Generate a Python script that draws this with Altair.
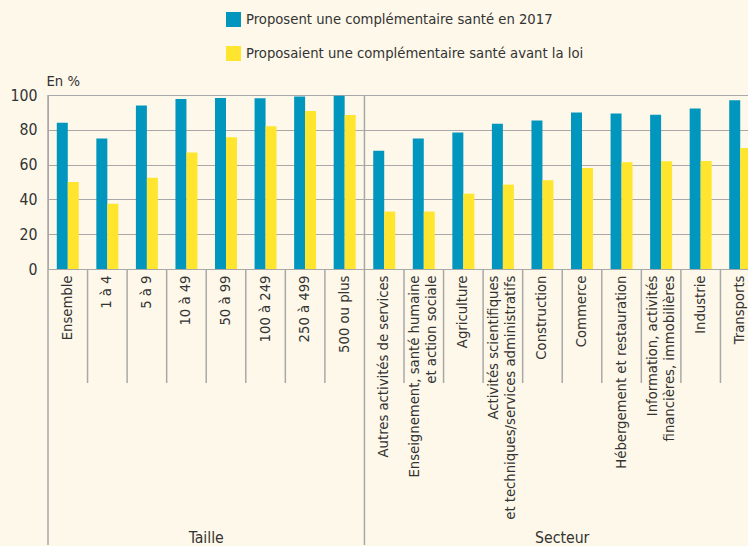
import altair as alt
import pandas as pd

categories = [
    "Ensemble", "1 à 4", "5 à 9", "10 à 49", "50 à 99", "100 à 249", "250 à 499", "500 ou plus",
    "Autres activités de services",
    "Enseignement, santé humaine|et action sociale",
    "Agriculture",
    "Activités scientifiques|et techniques/services administratifs",
    "Construction", "Commerce", "Hébergement et restauration",
    "Information, activités|financières, immobilières",
    "Industrie", "Transports",
]
groups = ["Taille"] * 8 + ["Secteur"] * 10
series_names = [
    "Proposent une complémentaire santé en 2017",
    "Proposaient une complémentaire santé avant la loi",
]
values_2017 = [84, 75, 94, 97.7, 98.3, 98.2, 99.2, 99.6,
               68, 75, 78.5, 83.5, 85.3, 90, 89.3, 88.7, 92.3, 97]
values_avant = [50, 37.5, 52.5, 67, 75.7, 82, 90.8, 88.5,
                33, 33, 43.3, 48.5, 51, 58, 61.3, 61.9, 62, 69.5]
group_labels = ["Taille", "Secteur"]

BLUE = "#0096BD"
YELLOW = "#FFE52E"
BG = "#FDF8E9"
GRID = "#A8A8A8"
TEXT = "#333333"
FONT = "DejaVu Sans Condensed, DejaVu Sans, sans-serif"
FS = 14.7

rows = []
for c, g, a, b in zip(categories, groups, values_2017, values_avant):
    rows.append({"cat": c, "group": g, "serie": series_names[0], "value": a})
    rows.append({"cat": c, "group": g, "serie": series_names[1], "value": b})
df = pd.DataFrame(rows)

# separators at the left edge of each category; longer at group starts
sep_rows = []
for i, (c, g) in enumerate(zip(categories, groups)):
    first = i == 0 or groups[i - 1] != g
    sep_rows.append({"cat": c, "long": first})
sep = pd.DataFrame(sep_rows)

# group labels anchored at the middle boundary of each group
glab_rows = []
for gl in group_labels:
    idx = [i for i, g in enumerate(groups) if g == gl]
    mid = idx[0] + len(idx) // 2
    glab_rows.append({"cat": categories[mid], "label": gl})
glab = pd.DataFrame(glab_rows)

H = 174
xscale = alt.Scale(domain=categories, range=[0, 712], paddingInner=0, paddingOuter=0)

bars = alt.Chart(df).mark_bar(strokeWidth=0).encode(
    x=alt.X("cat:N", scale=xscale, sort=categories,
            axis=alt.Axis(title=None, labelAngle=-90, labelAlign="right", labelBaseline="middle",
                          labelExpr="split(datum.label, '|')", labelLineHeight=17,
                          labelOffset={"expr": "indexof(datum.value, '|') >= 0 ? -8.5 : 0"},
                          ticks=False, tickSize=0, labelPadding=6, domainColor=GRID,
                          labelFontSize=FS, labelColor=TEXT, labelFont=FONT, labelLimit=400)),
    xOffset=alt.XOffset("serie:N", sort=series_names,
                        scale=alt.Scale(domain=series_names, paddingInner=0, paddingOuter=0.8)),
    y=alt.Y("value:Q", scale=alt.Scale(domain=[0, 100]),
            axis=alt.Axis(values=[0, 20, 40, 60, 80, 100], title="En %", titleAngle=0,
                          titleX=-2, titleY=-10, titleAlign="left", titleBaseline="alphabetic",
                          titleFontSize=FS, titleFontWeight="normal", titleColor=TEXT, titleFont=FONT,
                          labelFontSize=FS + 1, labelColor=TEXT, labelFont=FONT, labelPadding=11,
                          ticks=False, tickSize=0, domainColor=GRID, gridColor=GRID, gridWidth=1.2)),
    color=alt.Color("serie:N", sort=series_names,
                    scale=alt.Scale(domain=series_names, range=[BLUE, YELLOW]),
                    legend=alt.Legend(title=None, orient="none", legendX=178, legendY=-83,
                                      symbolType="square", symbolSize=225, symbolStrokeWidth=0,
                                      labelFontSize=FS, labelColor=TEXT, labelFont=FONT,
                                      labelOffset=5, rowPadding=18, padding=0, labelLimit=500)),
)

sep_short = alt.Chart(sep).transform_filter("!datum.long").mark_rule(color=GRID, strokeWidth=1.5).encode(
    x=alt.X("cat:N", scale=xscale, sort=categories, bandPosition=0),
    y=alt.value(H), y2=alt.value(H + 114),
)
sep_long = alt.Chart(sep).transform_filter("datum.long").mark_rule(color=GRID, strokeWidth=1.5).encode(
    x=alt.X("cat:N", scale=xscale, sort=categories, bandPosition=0),
    y=alt.value(0), y2=alt.value(H + 276),
)
gtext = alt.Chart(glab).mark_text(fontSize=FS + 1, font=FONT, color=TEXT, baseline="alphabetic",
                                  align="center").encode(
    x=alt.X("cat:N", scale=xscale, sort=categories, bandPosition=0),
    y=alt.value(H + 274),
    text="label:N",
)

chart = alt.layer(bars, sep_short, sep_long, gtext).properties(
    width=700, height=H,
    autosize=alt.AutoSizeParams(type="none"),
    padding={"left": 48, "top": 95, "right": 0, "bottom": 277},
    background=BG,
).configure_view(stroke=None).configure_axis(gridColor=GRID)

chart.save("out.html", embed_options={"renderer": "svg", "actions": False})
